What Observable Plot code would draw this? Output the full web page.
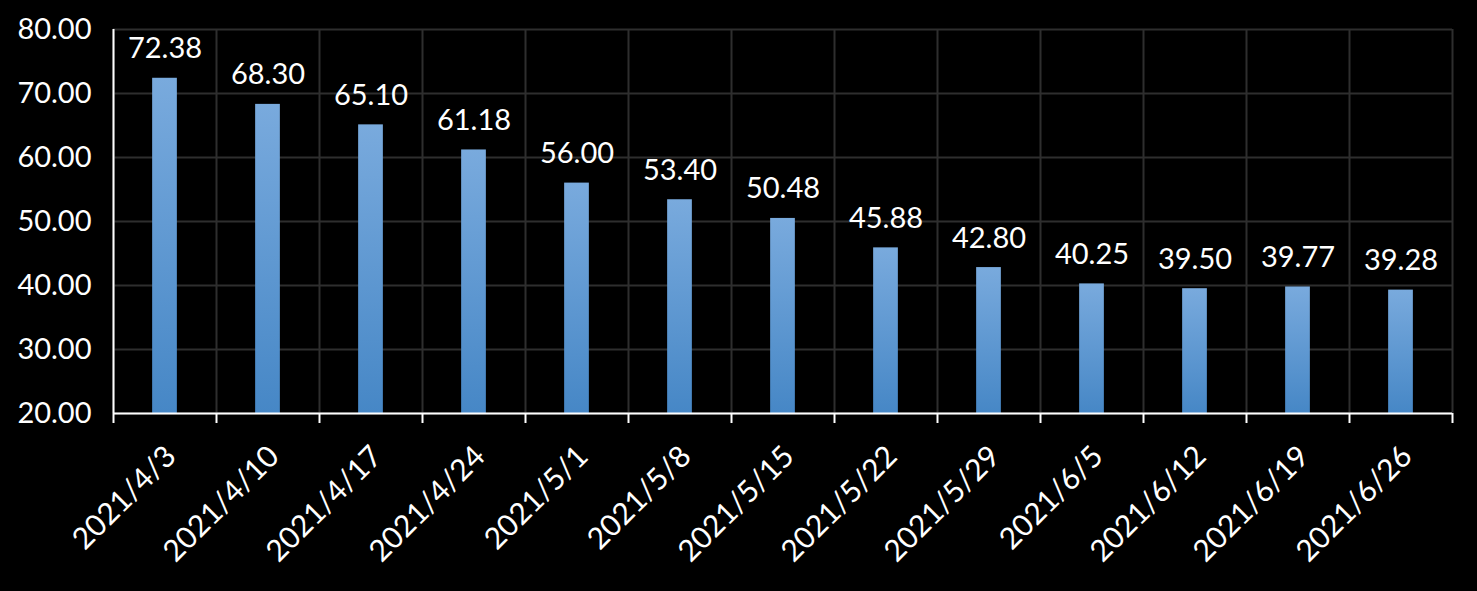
<!DOCTYPE html>
<html>
<head>
<meta charset="utf-8">
<script src="https://cdn.jsdelivr.net/npm/d3@7"></script>
<script src="https://cdn.jsdelivr.net/npm/@observablehq/plot@0.6"></script>
<style>
  html, body { margin: 0; padding: 0; background: #000; }
  svg { display: block; }
</style>
</head>
<body>
<div id="chart"></div>
<script>
const categories = ["2021/4/3","2021/4/10","2021/4/17","2021/4/24","2021/5/1","2021/5/8","2021/5/15","2021/5/22","2021/5/29","2021/6/5","2021/6/12","2021/6/19","2021/6/26"];
const values = [72.38, 68.30, 65.10, 61.18, 56.00, 53.40, 50.48, 45.88, 42.80, 40.25, 39.50, 39.77, 39.28];
const yTicks = [20, 30, 40, 50, 60, 70, 80];

const data = categories.map((c, i) => ({i, c, v: values[i]}));
const bounds = d3.range(-0.5, categories.length, 1);
const half = 0.12;
const font = "Lato, 'Open Sans', sans-serif";

const gradient = () => {
  const defs = d3.create("svg:defs");
  const g = defs.append("linearGradient").attr("id", "barGrad")
    .attr("x1", 0).attr("y1", 0).attr("x2", 0).attr("y2", 1);
  g.append("stop").attr("offset", "0%").attr("stop-color", "#79aadd");
  g.append("stop").attr("offset", "100%").attr("stop-color", "#4687c6");
  return defs.node();
};

const chart = Plot.plot({
  width: 1477,
  height: 591,
  marginLeft: 113,
  marginRight: 25,
  marginTop: 29,
  marginBottom: 178,
  style: {background: "#000", color: "#fff", fontFamily: font, fontSize: "28px"},
  x: {type: "linear", domain: [-0.5, categories.length - 0.5], axis: null},
  y: {domain: [20, 80], axis: null},
  marks: [
    gradient,
    Plot.ruleY(yTicks, {stroke: "#2e2e2e", strokeWidth: 2}),
    Plot.ruleX(bounds, {stroke: "#2e2e2e", strokeWidth: 2}),
    Plot.rectY(data, {x1: d => d.i - half, x2: d => d.i + half, y1: 20, y2: "v", fill: "url(#barGrad)"}),
    Plot.text(data, {x: "i", y: "v", text: d => d.v.toFixed(2), fill: "#fff", fontSize: 29, lineAnchor: "bottom", dy: -20}),
    Plot.axisY(yTicks, {tickSize: 0, tickPadding: 22, tickFormat: d => d.toFixed(2), fill: "#fff", fontSize: 29, label: null}),
    Plot.axisX(bounds, {tickSize: 10, strokeWidth: 2, stroke: "#fff", tickFormat: () => "", label: null}),
    Plot.ruleY([20], {stroke: "#fff", strokeWidth: 2}),
    Plot.ruleX([-0.5], {stroke: "#fff", strokeWidth: 2}),
    Plot.text(data, {x: "i", frameAnchor: "bottom", text: "c", rotate: -45, textAnchor: "end", lineAnchor: "middle", dx: 6, dy: 38, fill: "#fff", fontSize: 30})
  ]
});
document.getElementById("chart").append(chart);
</script>
</body>
</html>
